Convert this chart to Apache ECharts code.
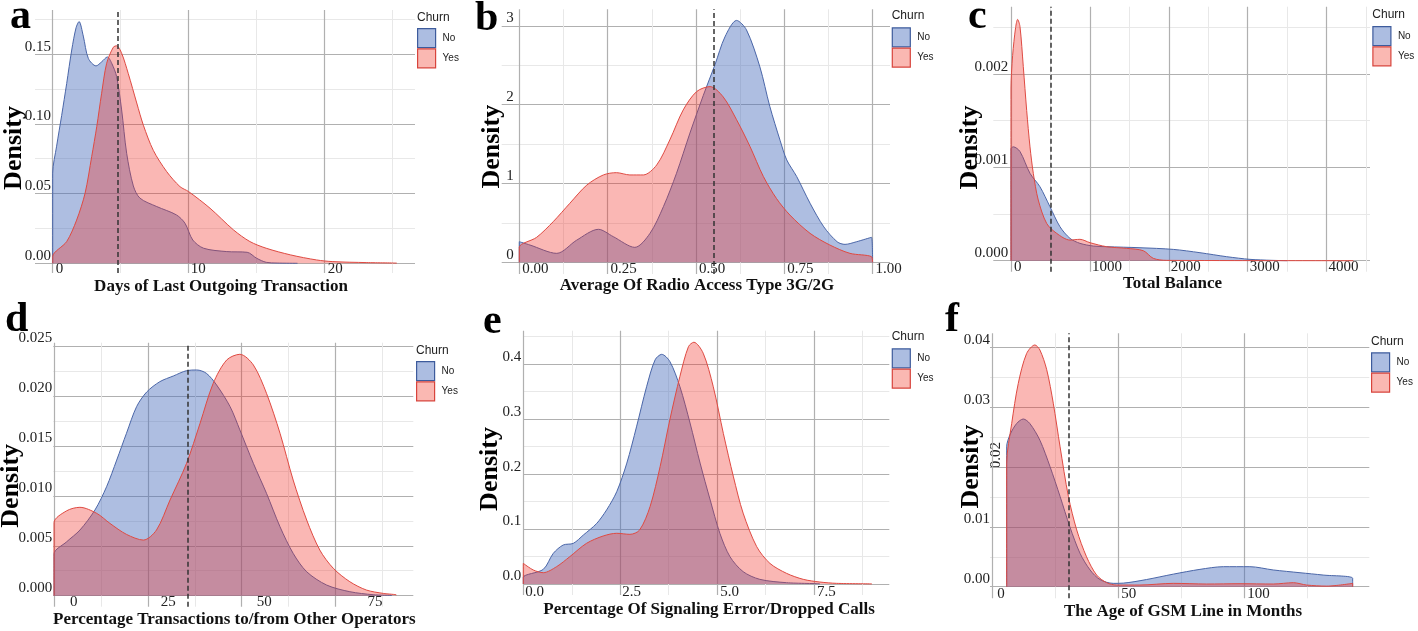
<!DOCTYPE html>
<html><head><meta charset="utf-8">
<script src="https://cdn.jsdelivr.net/npm/echarts@6/dist/echarts.min.js"></script>
<style>html,body{margin:0;padding:0;background:#fff}#c{width:1418px;height:631px}</style>
</head><body><div id="c"></div>
<script>
// ---------- Panel a: Days of Last Outgoing Transaction ----------
const A_noX  = [0, 0, 0.29, 0.66, 1.03, 1.4, 1.72, 1.94, 2.25, 2.62, 3.19, 3.6, 4.02, 4.34, 4.7, 5.07, 5.44, 5.93, 6.42, 7.65, 9.1, 9.73, 10.3, 11.1, 12.8, 14.3, 15.0, 15.7, 16.5, 18.0];
const A_noY  = [0, 0.0646, 0.084, 0.106, 0.129, 0.153, 0.169, 0.1734, 0.163, 0.147, 0.1416, 0.1445, 0.148, 0.1435, 0.134, 0.110, 0.0789, 0.0555, 0.0467, 0.0407, 0.0347, 0.0287, 0.0167, 0.0108, 0.0084, 0.0079, 0.0036, 0.0007, 0.0002, 0];
const A_yesX = [0, 0, 1.03, 1.76, 2.38, 2.87, 3.24, 3.6, 3.97, 4.46, 4.7, 5.07, 5.56, 6.18, 6.67, 7.4, 8.38, 9.36, 10.0, 11.57, 13.3, 14.5, 15.7, 17.5, 19.4, 20.6, 23.1, 25.3, 25.3];
const A_yesY = [0, 0.0048, 0.0156, 0.031, 0.0502, 0.0766, 0.098, 0.122, 0.1435, 0.155, 0.156, 0.1507, 0.136, 0.115, 0.099, 0.081, 0.0658, 0.055, 0.0514, 0.0395, 0.0239, 0.0156, 0.0108, 0.006, 0.0024, 0.0012, 0.0005, 0.0001, 0];
const A_cut = 4.82;
const A_xTicks = [0, 10, 20], A_xLabels = ['0', '10', '20'], A_xMinor = [5, 15, 25];
const A_yTicks = [0, 0.05, 0.10, 0.15], A_yLabels = ['0.00', '0.05', '0.10', '0.15'], A_yMinor = [0.025, 0.075, 0.125, 0.175];

// ---------- Panel b: Average Of Radio Access Type 3G/2G ----------
const B_noX  = [0, 0, 0.03, 0.106, 0.162, 0.224, 0.266, 0.327, 0.37, 0.408, 0.445, 0.483, 0.521, 0.554, 0.582, 0.615, 0.643, 0.681, 0.709, 0.738, 0.757, 0.785, 0.823, 0.862, 0.9, 0.922, 0.955, 0.997, 1.0];
const B_noY  = [0, 0.262, 0.22, 0.114, 0.28, 0.419, 0.326, 0.19, 0.368, 0.707, 1.13, 1.64, 2.12, 2.51, 2.86, 3.07, 2.95, 2.48, 1.98, 1.55, 1.30, 1.09, 0.75, 0.45, 0.26, 0.228, 0.262, 0.317, 0];
const B_yesX = [0, 0, 0.049, 0.096, 0.143, 0.191, 0.238, 0.275, 0.313, 0.351, 0.389, 0.426, 0.464, 0.502, 0.54, 0.577, 0.615, 0.653, 0.691, 0.728, 0.766, 0.823, 0.879, 0.936, 0.997, 1.0];
const B_yesY = [0, 0.19, 0.317, 0.516, 0.749, 0.98, 1.109, 1.138, 1.109, 1.109, 1.236, 1.553, 1.934, 2.167, 2.23, 2.10, 1.81, 1.47, 1.088, 0.81, 0.60, 0.368, 0.22, 0.114, 0.072, 0];
const B_cut = 0.554;
const B_xTicks = [0, 0.25, 0.5, 0.75, 1], B_xLabels = ['0.00', '0.25', '0.50', '0.75', '1.00'], B_xMinor = [0.125, 0.375, 0.625, 0.875];
const B_yTicks = [0, 1, 2, 3], B_yLabels = ['0', '1', '2', '3'], B_yMinor = [0.5, 1.5, 2.5];

// ---------- Panel c: Total Balance ----------
const C_noX  = [0, 0, 30, 114, 241, 367, 494, 621, 748, 874, 1043, 1212, 1635, 2057, 2395, 2733, 3029, 3300, 3500];
const C_noY  = [0, 0.0012, 0.00122, 0.00117, 0.000936, 0.000793, 0.000579, 0.000364, 0.000239, 0.000186, 0.000157, 0.00015, 0.000139, 0.000121, 0.0000857, 0.0000429, 0.0000143, 0.000004, 0];
const C_yesX = [0, 0, 21, 59, 84, 114, 156, 199, 241, 283, 346, 452, 579, 748, 874, 1001, 1212, 1466, 1677, 1804, 1973, 4338];
const C_yesY = [0, 0.00184, 0.0022, 0.0025, 0.002586, 0.00251, 0.00208, 0.00161, 0.00122, 0.000936, 0.00065, 0.0004, 0.000293, 0.000221, 0.000229, 0.000193, 0.00015, 0.000132, 0.000107, 0.000025, 0.0000036, 0];
const C_cut = 507;
const C_xTicks = [0, 1000, 2000, 3000, 4000], C_xLabels = ['0', '1000', '2000', '3000', '4000'], C_xMinor = [500, 1500, 2500, 3500, 4500];
const C_yTicks = [0, 0.001, 0.002], C_yLabels = ['0.000', '0.001', '0.002'], C_yMinor = [0.0005, 0.0015, 0.0025];

// ---------- Panel d: Percentage Transactions to/from Other Operators ----------
const D_noX  = [0, 0, 3.37, 6.92, 10.9, 14.0, 16.7, 19.3, 22.0, 24.7, 28.2, 31.8, 35.3, 38.0, 40.6, 43.3, 46.9, 49.5, 53.1, 56.6, 60.2, 63.7, 67.3, 72.6, 78.8, 85, 90, 90];
const D_noY  = [0, 0.00417, 0.0054, 0.00658, 0.00858, 0.01091, 0.01358, 0.01626, 0.01893, 0.0204, 0.02143, 0.022, 0.02253, 0.0226, 0.02226, 0.0211, 0.01893, 0.0166, 0.01325, 0.01025, 0.0069, 0.00424, 0.0024, 0.00107, 0.0004, 0.0001, 0.00002, 0];
const D_yesX = [0, 0, 3.37, 6.9, 11.4, 14.9, 19.3, 23.8, 27.3, 30.9, 35.3, 38.9, 42.4, 46, 49.5, 53.1, 56.6, 60.2, 63.7, 67.3, 70.8, 74.4, 78.8, 83.2, 87.7, 91.2, 91.2];
const D_yesY = [0, 0.0073, 0.0085, 0.00885, 0.00824, 0.00724, 0.00614, 0.00557, 0.00658, 0.00958, 0.01325, 0.01726, 0.02126, 0.0236, 0.02417, 0.0231, 0.02026, 0.01626, 0.01158, 0.00758, 0.00457, 0.00274, 0.0014, 0.00057, 0.00023, 0.00007, 0];
const D_cut = 35.6;
const D_xTicks = [0, 25, 50, 75], D_xLabels = ['0', '25', '50', '75'], D_xMinor = [12.5, 37.5, 62.5, 87.5];
const D_yTicks = [0, 0.005, 0.010, 0.015, 0.020, 0.025], D_yLabels = ['0.000', '0.005', '0.010', '0.015', '0.020', '0.025'], D_yMinor = [0.0025, 0.0075, 0.0125, 0.0175, 0.0225];

// ---------- Panel e: Percentage Of Signaling Error/Dropped Calls ----------
const E_noX  = [0, 0, 0.516, 0.774, 1.03, 1.29, 1.55, 1.89, 2.15, 2.41, 2.67, 2.92, 3.18, 3.4, 3.57, 3.78, 4.04, 4.3, 4.56, 4.82, 5.07, 5.33, 5.67, 6.1, 6.79, 7.65, 7.65];
const E_noY  = [0, 0.0121, 0.0267, 0.0558, 0.071, 0.074, 0.0892, 0.11, 0.135, 0.168, 0.22, 0.286, 0.359, 0.408, 0.418, 0.405, 0.359, 0.293, 0.22, 0.153, 0.0923, 0.0498, 0.0225, 0.0085, 0.0024, 0.0002, 0];
const E_yesX = [0, 0, 0.258, 0.516, 0.86, 1.2, 1.63, 2.06, 2.41, 2.75, 3.0, 3.27, 3.53, 3.78, 4.04, 4.26, 4.4, 4.64, 4.9, 5.16, 5.42, 5.67, 6.02, 6.36, 6.79, 7.22, 7.65, 8.08, 8.99, 8.99];
const E_yesY = [0, 0.0376, 0.0255, 0.0206, 0.0316, 0.0498, 0.074, 0.0874, 0.0923, 0.0904, 0.0983, 0.141, 0.214, 0.299, 0.378, 0.432, 0.44, 0.42, 0.359, 0.274, 0.195, 0.129, 0.068, 0.0376, 0.0194, 0.0085, 0.0036, 0.0012, 0.0001, 0];
const E_cut = null;
const E_xTicks = [0, 2.5, 5, 7.5], E_xLabels = ['0.0', '2.5', '5.0', '7.5'], E_xMinor = [1.25, 3.75, 6.25, 8.75];
const E_yTicks = [0, 0.1, 0.2, 0.3, 0.4], E_yLabels = ['0.0', '0.1', '0.2', '0.3', '0.4'], E_yMinor = [0.05, 0.15, 0.25, 0.35, 0.45];

// ---------- Panel f: The Age of GSM Line in Months ----------
const F_noX  = [5.7, 5.7, 7, 9.66, 12.3, 14.9, 18.9, 22.9, 26.9, 30.8, 34.8, 38.8, 42.7, 48, 52, 61.2, 71.8, 82.4, 91.7, 102.2, 111.5, 122.1, 131.3, 143, 143];
const F_noY  = [0, 0.0234, 0.0254, 0.0273, 0.02806, 0.0273, 0.0245, 0.0201, 0.0151, 0.01, 0.0056, 0.0028, 0.0012, 0.00056, 0.0006, 0.0012, 0.0021, 0.0029, 0.00335, 0.00335, 0.0028, 0.00234, 0.00195, 0.0014, 0];
const F_yesX = [5.7, 5.7, 7.7, 10.3, 13.6, 16.9, 18.9, 21.6, 24.2, 26.9, 30.2, 33.5, 37.4, 41.4, 45.4, 49.3, 58.6, 71.8, 85, 98.3, 111.5, 119.5, 124.7, 132.7, 143, 143];
const F_yesY = [0, 0.0206, 0.0273, 0.034, 0.039, 0.04045, 0.0396, 0.0363, 0.0307, 0.0234, 0.0151, 0.0095, 0.005, 0.00195, 0.00067, 0.00028, 0.00028, 0.00056, 0.00045, 0.0005, 0.00045, 0.00067, 0.00028, 0.0001, 0.00056, 0];
const F_cut = 30.4;
const F_xTicks = [0, 50, 100], F_xLabels = ['0', '50', '100'], F_xMinor = [25, 75, 125];
const F_yTicks = [0, 0.01, 0.02, 0.03, 0.04], F_yLabels = ['0.00', '0.01', '0.02', '0.03', '0.04'], F_yMinor = [0.005, 0.015, 0.025, 0.035];

const seriesNames = ['No', 'Yes'];
const legendTitle = 'Churn';
const panelLetters = ['a', 'b', 'c', 'd', 'e', 'f'];
const xTitles = ['Days of Last Outgoing Transaction', 'Average Of Radio Access Type 3G/2G', 'Total Balance',
  'Percentage Transactions to/from Other Operators', 'Percentage Of Signaling Error/Dropped Calls', 'The Age of GSM Line in Months'];
const yTitle = 'Density';

// ---------- layout / style ----------
const SERIF = "'Liberation Serif','Times New Roman',serif";
const SANS = "'Liberation Sans',Arial,sans-serif";
const NO_FILL = 'rgba(75,111,188,0.45)', NO_LINE = '#4a66a8';
const YES_FILL = 'rgba(240,50,40,0.35)', YES_LINE = '#df4a42';
const MAJOR = '#b0b0b0', MINOR = '#e8e8e8';

const panels = [
  {noX: A_noX, noY: A_noY, yesX: A_yesX, yesY: A_yesY, cut: A_cut, xT: A_xTicks, xL: A_xLabels, xM: A_xMinor, yT: A_yTicks, yL: A_yLabels, yM: A_yMinor,
   box: [35, 10, 415, 273], xr: [-1.3, 26.64], yr: [-0.00696, 0.1817], yMargin: -16, xMargin: -4, xPad: [3, 2, 3],
   letter: [10, 17], dens: [14.5, 148], title: [221, 287], leg: [417, 28], churn: 17.5},
  {noX: B_noX, noY: B_noY, yesX: B_yesX, yesY: B_yesY, cut: B_cut, xT: B_xTicks, xL: B_xLabels, xM: B_xMinor, yT: B_yTicks, yL: B_yLabels, yM: B_yMinor,
   box: [501.7, 9.3, 890, 274], xr: [-0.0498, 1.0493], yr: [-0.148, 3.211], yMargin: -12, xMargin: -5, xPad: [3, 3, 3, 3, 3],
   letter: [475, 19], dens: [492.5, 146.7], title: [697, 286], leg: [891.7, 27.3], churn: 16},
  {noX: C_noX, noY: C_noY, yesX: C_yesX, yesY: C_yesY, cut: C_cut, xT: C_xTicks, xL: C_xLabels, xM: C_xMinor, yT: C_yTicks, yL: C_yLabels, yM: C_yMinor,
   box: [993.3, 6.7, 1370, 271.7], xr: [-224, 4550], yr: [-0.000118, 0.002722], yMargin: -15, xMargin: -5, xPad: [3, 2, 2, 2, 2],
   letter: [968, 17], dens: [970.5, 147.5], title: [1172.5, 284], leg: [1372.3, 26], churn: 15},
  {noX: D_noX, noY: D_noY, yesX: D_yesX, yesY: D_yesY, cut: D_cut, xT: D_xTicks, xL: D_xLabels, xM: D_xMinor, yT: D_yTicks, yL: D_yLabels, yM: D_yMinor,
   box: [53.3, 342.7, 413.3, 606.7], xr: [-0.19, 95.7], yr: [-0.0011, 0.02533], yMargin: 1, xMargin: -5, xPad: [16, 13, 15, 32],
   letter: [5, 320], dens: [11.5, 485.8], title: [234.3, 619.3], leg: [416, 361], churn: 350.5},
  {noX: E_noX, noY: E_noY, yesX: E_yesX, yesY: E_yesY, cut: E_cut, xT: E_xTicks, xL: E_xLabels, xM: E_xMinor, yT: E_yTicks, yL: E_yLabels, yM: E_yMinor,
   box: [523.3, 330.7, 889.3, 595], xr: [0, 9.44], yr: [-0.02, 0.461], yMargin: 2, xMargin: -3.3, xPad: [2, 2, 3, 3],
   letter: [483, 322], dens: [490, 469], title: [709, 609.3], leg: [891.7, 348.3], churn: 337},
  {noX: F_noX, noY: F_noY, yesX: F_yesX, yesY: F_yesY, cut: F_cut, xT: F_xTicks, xL: F_xLabels, xM: F_xMinor, yT: F_yTicks, yL: F_yLabels, yM: F_yMinor,
   yLabelSkip: [0.02],
   box: [990, 333.3, 1369.3, 598.3], xr: [-0.91, 149.6], yr: [-0.00194, 0.0424], yMargin: 0, xMargin: -4, xPad: [5, 3, 3],
   letter: [945, 320], dens: [971, 466.7], title: [1183, 611.7], leg: [1371, 352.3], churn: 341.3}
];

function zip(xs, ys) { return xs.map((x, i) => [x, ys[i]]); }
function nearestIndex(v, vals) {
  let bi = 0, bd = Infinity;
  vals.forEach((t, i) => { const d = Math.abs(t - v); if (d < bd) { bd = d; bi = i; } });
  return bi;
}

const grid = [], xAxis = [], yAxis = [], series = [], legend = [], graphic = [];
panels.forEach((p, i) => {
  const [l, t, r, b] = p.box;
  grid.push({left: l, top: t, width: r - l, height: b - t, containLabel: false});
  const xi = 2 * i, yi = 2 * i;
  // minor axes (drawn first)
  xAxis.push({type: 'value', gridIndex: i, position: 'bottom', min: p.xr[0], max: p.xr[1], axisLine: {show: false},
    axisTick: {show: false, customValues: p.xM}, axisLabel: {show: false},
    splitLine: {show: true, lineStyle: {color: MINOR, width: 1}}});
  yAxis.push({type: 'value', gridIndex: i, position: 'left', min: p.yr[0], max: p.yr[1], axisLine: {show: false},
    axisTick: {show: false, customValues: p.yM}, axisLabel: {show: false},
    splitLine: {show: true, lineStyle: {color: MINOR, width: 1}}});
  // major axes
  const rich = {};
  p.xPad.forEach((pd, k) => { rich['p' + k] = {padding: [0, 0, 0, pd], fontFamily: SERIF, fontSize: 15, color: '#222'}; });
  xAxis.push({type: 'value', gridIndex: i, position: 'bottom', min: p.xr[0], max: p.xr[1], axisLine: {show: false},
    axisTick: {show: false, customValues: p.xT},
    axisLabel: {customValues: p.xT, align: 'left', verticalAlign: 'middle', margin: p.xMargin,
      fontFamily: SERIF, fontSize: 15, color: '#222', rich: rich,
      formatter: v => { const k = nearestIndex(v, p.xT); return '{p' + k + '|' + p.xL[k] + '}'; }},
    splitLine: {show: true, lineStyle: {color: MAJOR, width: 1.2}}});
  const yLabVals = p.yT.filter(v => !(p.yLabelSkip || []).includes(v));
  yAxis.push({type: 'value', gridIndex: i, position: 'left', min: p.yr[0], max: p.yr[1], axisLine: {show: false},
    axisTick: {show: false, customValues: p.yT},
    axisLabel: {customValues: yLabVals, align: 'right', verticalAlign: 'bottom', margin: p.yMargin,
      fontFamily: SERIF, fontSize: 15, color: '#222',
      formatter: v => p.yL[nearestIndex(v, p.yT)]},
    splitLine: {show: true, lineStyle: {color: MAJOR, width: 1.2}}});
  const common = {type: 'line', xAxisIndex: xi + 1, yAxisIndex: yi + 1, smooth: 0.3, symbol: 'none', silent: true,
    animation: false, emphasis: {disabled: true}};
  series.push(Object.assign({}, common, {name: seriesNames[0], data: zip(p.noX, p.noY), z: 3,
    lineStyle: {color: NO_LINE, width: 1}, itemStyle: {color: NO_LINE},
    areaStyle: {color: NO_FILL, opacity: 1},
    markLine: p.cut == null ? undefined : {silent: true, symbol: ['none', 'none'], label: {show: false},
      lineStyle: {type: [5, 3], color: '#333', width: 1.5}, data: [{xAxis: p.cut}], z: 10, animation: false}}));
  series.push(Object.assign({}, common, {name: seriesNames[1], data: zip(p.yesX, p.yesY), z: 4,
    lineStyle: {color: YES_LINE, width: 1}, itemStyle: {color: YES_LINE},
    areaStyle: {color: YES_FILL, opacity: 1}}));
  legend.push({left: p.leg[0], top: p.leg[1], orient: 'vertical', padding: 0, itemGap: 0, itemWidth: 18, itemHeight: 19,
    icon: 'rect', selectedMode: false,
    textStyle: {fontFamily: SANS, fontSize: 10, color: '#222', padding: [0, 0, 0, 2]},
    data: [
      {name: seriesNames[0], itemStyle: {color: 'rgb(172,189,225)', borderColor: '#3d5b9c', borderWidth: 1.2}},
      {name: seriesNames[1], itemStyle: {color: 'rgb(250,184,178)', borderColor: '#d8443c', borderWidth: 1.2}}
    ]});
  graphic.push({type: 'text', x: p.leg[0], y: p.churn, silent: true,
    style: {text: legendTitle, font: '12px ' + SANS, fill: '#222', textAlign: 'left', textVerticalAlign: 'middle'}});
  graphic.push({type: 'text', x: p.letter[0], y: p.letter[1], silent: true,
    style: {text: panelLetters[i], font: 'bold 42px ' + SERIF, fill: '#000', textAlign: 'left', textVerticalAlign: 'middle'}});
  graphic.push({type: 'text', x: p.dens[0], y: p.dens[1], rotation: Math.PI / 2, silent: true,
    style: {text: yTitle, font: 'bold 26px ' + SERIF, fill: '#000', textAlign: 'center', textVerticalAlign: 'middle'}});
  graphic.push({type: 'text', x: p.title[0], y: p.title[1], silent: true,
    style: {text: xTitles[i], font: 'bold 17px ' + SERIF, fill: '#111', textAlign: 'center', textVerticalAlign: 'middle'}});
});
// rotated stray tick label in panel f
graphic.push({type: 'text', x: 996.5, y: 455, rotation: Math.PI / 2, silent: true,
  style: {text: F_yLabels[2], font: '15px ' + SERIF, fill: '#222', textAlign: 'center', textVerticalAlign: 'middle'}});

const chart = echarts.init(document.getElementById('c'), null, {renderer: 'canvas'});
chart.setOption({backgroundColor: '#fff', animation: false, grid, xAxis, yAxis, series, legend, graphic, tooltip: {show: false}});
</script></body></html>
